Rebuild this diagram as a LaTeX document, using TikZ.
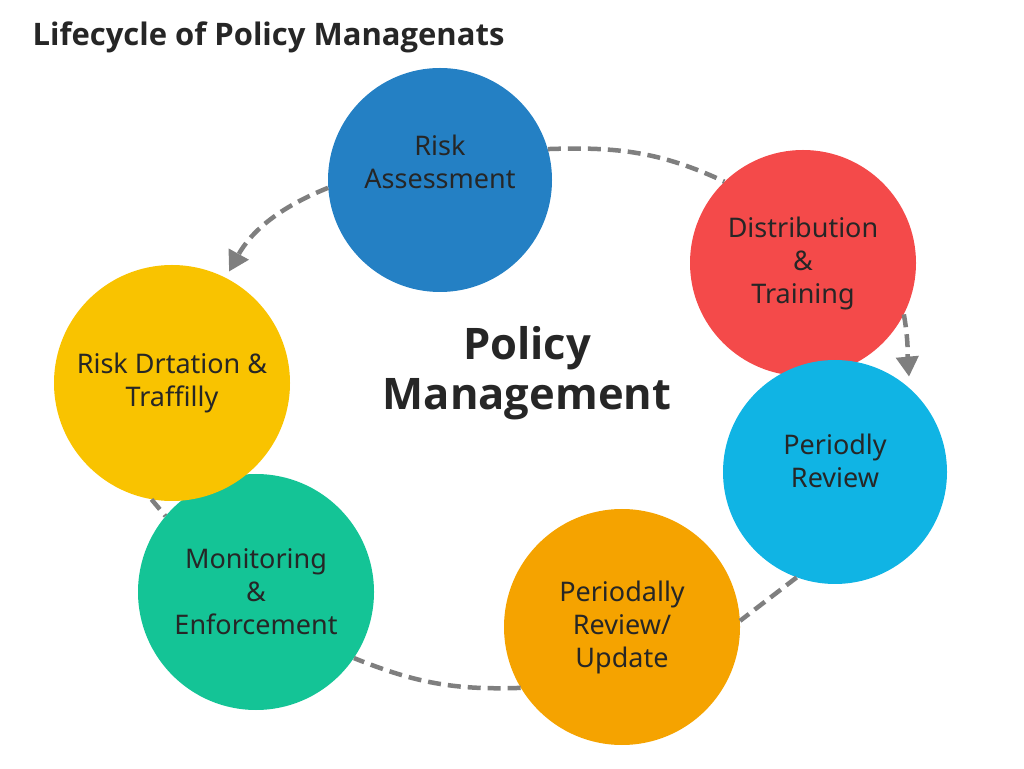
\documentclass[tikz,border=0pt]{standalone}
\usepackage{fontspec}
\setmainfont{Noto Sans}
\newfontfamily\headfont{Open Sans}
\usetikzlibrary{arrows.meta}
\definecolor{ink}{HTML}{262626}
\definecolor{flowgray}{HTML}{7F7F7F}
\definecolor{riskblue}{HTML}{2480C4}
\definecolor{distred}{HTML}{F44A4A}
\definecolor{reviewcyan}{HTML}{10B4E4}
\definecolor{updateorange}{HTML}{F5A300}
\definecolor{monitorgreen}{HTML}{14C496}
\definecolor{drtyellow}{HTML}{F9C300}
\begin{document}
\begin{tikzpicture}[x=1pt,y=1pt,
    stage/.style={circle,inner sep=0pt,text=ink,align=center,
        font=\fontsize{27}{33}\selectfont},
    flow/.style={draw=flowgray,line width=4.5pt,dash pattern=on 13pt off 7pt},
    flowtip/.style={flow,-{Triangle[width=22pt,length=20pt]}}]
    \useasboundingbox (0,0) rectangle (1024,768);
    \node[anchor=base west,text=ink,font=\headfont\bfseries\fontsize{31}{36}\selectfont]
        (title) at (29,722) {Lifecycle of Policy Managenats};
    \node[stage,fill=riskblue,minimum size=224pt,text depth=37pt] (risk) at (440,588)
        {Risk\\Assessment};
    \node[stage,fill=distred,minimum size=226pt] (dist) at (803,505)
        {Distribution\\\&\\Training};
    \node[stage,fill=reviewcyan,minimum size=224pt,text depth=23pt] (review) at (835,296)
        {Periodly\\Review};
    \node[stage,fill=updateorange,minimum size=236pt] (update) at (622,141)
        {Periodally\\Review/\\Update};
    \node[stage,fill=monitorgreen,minimum size=236pt] (monitor) at (256,176)
        {Monitoring\\\&\\Enforcement};
    \node[stage,fill=drtyellow,minimum size=236pt] (drtation) at (172,385)
        {Risk Drtation \&\\Traffilly};
    \node[text=ink,align=center,font=\headfont\bfseries\fontsize{43.5}{50}\selectfont]
        (core) at (527,395) {Policy\\Management};
    \draw[flow] (risk.16) to[out=2,in=155] (dist.134);
    \draw[flowtip,shorten >=12pt] (dist.-27) to[out=-80,in=95] (review.48);
    \draw[flow] (review.-110) -- (update.3);
    \draw[flow] (update.211) to[out=182,in=-22] (monitor.-34);
    \draw[flow] (drtation.-100) -- (monitor.140);
    \draw[flowtip,shorten >=7pt] (risk.184) to[out=202,in=61] (drtation.63);
\end{tikzpicture}
\end{document}
